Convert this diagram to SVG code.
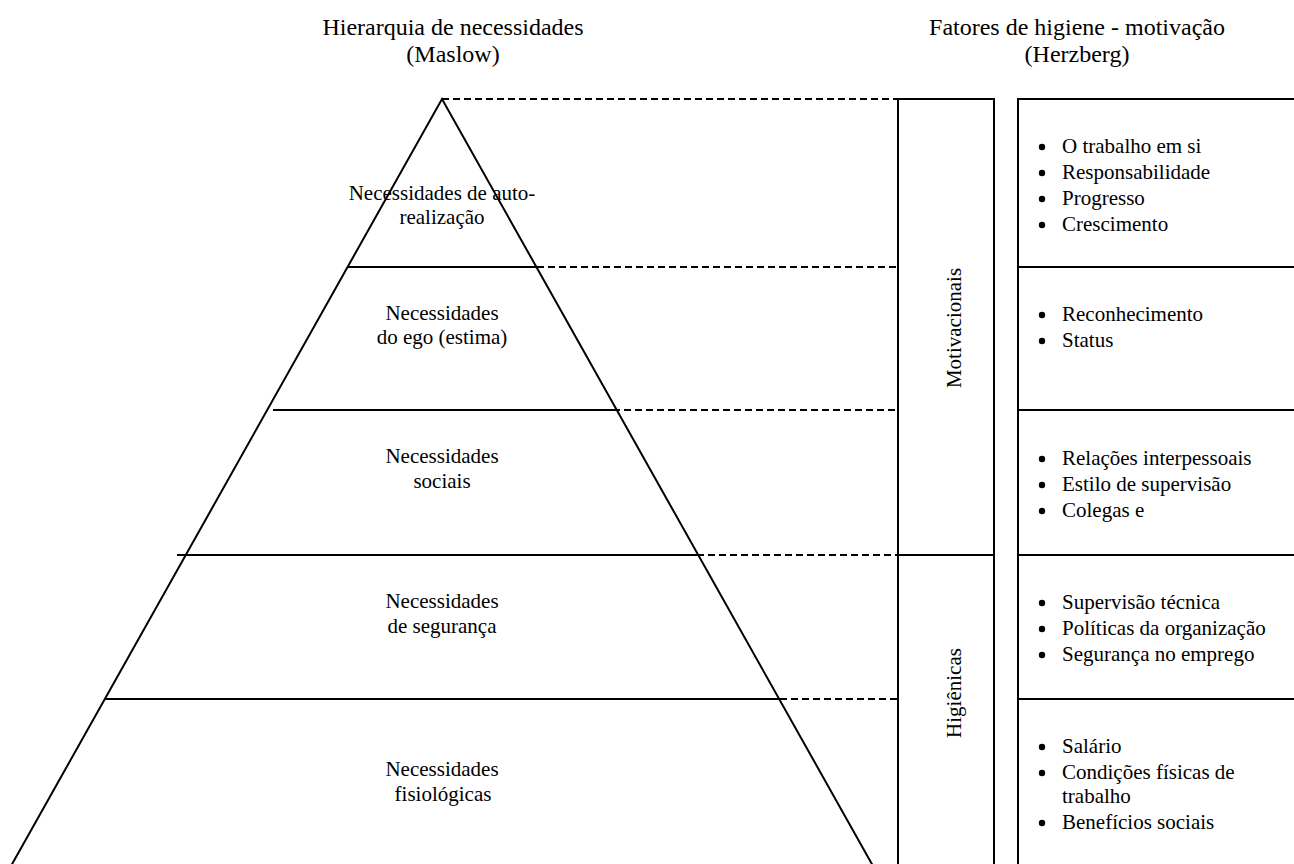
<svg xmlns="http://www.w3.org/2000/svg" width="1294" height="864" viewBox="0 0 1294 864" font-family="'Liberation Serif', 'Times New Roman', Tinos, serif">
<style>
text{font-family:'Liberation Serif','Times New Roman',Tinos,serif;fill:#000}
.t{font-size:24px;text-anchor:middle}
.b{font-size:21px}
.c{font-size:21px;text-anchor:middle}
.ln{stroke:#000;stroke-width:2;fill:none}
.ds{stroke:#000;stroke-width:1.8;stroke-dasharray:7 4;fill:none}
.bu{fill:#000}
</style>
<rect width="1294" height="864" fill="#fff"/>
<g id="titles">
<text class="t" x="453" y="35">Hierarquia de necessidades</text>
<text class="t" x="453" y="62">(Maslow)</text>
<text class="t" x="1077" y="35">Fatores de higiene - motivação</text>
<text class="t" x="1077" y="62">(Herzberg)</text>
</g>
<g id="pyramid">
<polyline class="ln" points="11,866 442,99 873,866"/>
<line class="ln" x1="347" y1="267" x2="537" y2="267"/>
<line class="ln" x1="273" y1="410" x2="613" y2="410"/>
<line class="ln" x1="177" y1="555" x2="697" y2="555"/>
<line class="ln" x1="105" y1="699" x2="780" y2="699"/>
</g>
<g id="level-auto">
<text class="c" x="442" y="200">Necessidades de auto-</text>
<text class="c" x="442" y="224">realização</text>
</g>
<g id="level-ego">
<text class="c" x="442" y="320">Necessidades</text>
<text class="c" x="442" y="344">do ego (estima)</text>
</g>
<g id="level-social">
<text class="c" x="442" y="463">Necessidades</text>
<text class="c" x="442" y="488">sociais</text>
</g>
<g id="level-seg">
<text class="c" x="442" y="608">Necessidades</text>
<text class="c" x="442" y="633">de segurança</text>
</g>
<g id="level-fisio">
<text class="c" x="442" y="776">Necessidades</text>
<text class="c" x="443" y="801">fisiológicas</text>
</g>
<g id="connectors">
<line class="ds" x1="442" y1="99" x2="898" y2="99"/>
<line class="ds" x1="537" y1="267" x2="898" y2="267"/>
<line class="ds" x1="613" y1="410" x2="898" y2="410"/>
<line class="ds" x1="697" y1="555" x2="898" y2="555"/>
<line class="ds" x1="780" y1="699" x2="898" y2="699"/>
</g>
<g id="motivacionais">
<polyline class="ln" points="898,555 898,99 994,99 994,555"/>
<text class="b" text-anchor="middle" transform="translate(961,328) rotate(-90)">Motivacionais</text>
</g>
<g id="higienicas">
<polyline class="ln" points="898,866 898,555 994,555 994,866"/>
<text class="b" text-anchor="middle" transform="translate(961,693) rotate(-90)">Higiênicas</text>
</g>
<g id="factors-frame">
<line class="ln" x1="1018" y1="98" x2="1018" y2="866"/>
<line class="ln" x1="1017" y1="99" x2="1294" y2="99"/>
<line class="ln" x1="1017" y1="267" x2="1294" y2="267"/>
<line class="ln" x1="1017" y1="410" x2="1294" y2="410"/>
<line class="ln" x1="1017" y1="555" x2="1294" y2="555"/>
<line class="ln" x1="1017" y1="699" x2="1294" y2="699"/>
</g>
<g id="row1">
<circle class="bu" cx="1042" cy="147" r="3.2"/><text class="b" x="1062" y="153">O trabalho em si</text>
<circle class="bu" cx="1042" cy="173" r="3.2"/><text class="b" x="1062" y="179">Responsabilidade</text>
<circle class="bu" cx="1042" cy="199" r="3.2"/><text class="b" x="1062" y="205">Progresso</text>
<circle class="bu" cx="1042" cy="225" r="3.2"/><text class="b" x="1062" y="231">Crescimento</text>
</g>
<g id="row2">
<circle class="bu" cx="1042" cy="315" r="3.2"/><text class="b" x="1062" y="321">Reconhecimento</text>
<circle class="bu" cx="1042" cy="341" r="3.2"/><text class="b" x="1062" y="347">Status</text>
</g>
<g id="row3">
<circle class="bu" cx="1042" cy="459" r="3.2"/><text class="b" x="1062" y="465">Relações interpessoais</text>
<circle class="bu" cx="1042" cy="485" r="3.2"/><text class="b" x="1062" y="491">Estilo de supervisão</text>
<circle class="bu" cx="1042" cy="511" r="3.2"/><text class="b" x="1062" y="517">Colegas e</text>
</g>
<g id="row4">
<circle class="bu" cx="1042" cy="603" r="3.2"/><text class="b" x="1062" y="609">Supervisão técnica</text>
<circle class="bu" cx="1042" cy="629" r="3.2"/><text class="b" x="1062" y="635">Políticas da organização</text>
<circle class="bu" cx="1042" cy="655" r="3.2"/><text class="b" x="1062" y="661">Segurança no emprego</text>
</g>
<g id="row5">
<circle class="bu" cx="1042" cy="747" r="3.2"/><text class="b" x="1062" y="753">Salário</text>
<circle class="bu" cx="1042" cy="773" r="3.2"/><text class="b" x="1062" y="779">Condições físicas de</text>
<text class="b" x="1062" y="803">trabalho</text>
<circle class="bu" cx="1042" cy="823" r="3.2"/><text class="b" x="1062" y="829">Benefícios sociais</text>
</g>
</svg>
